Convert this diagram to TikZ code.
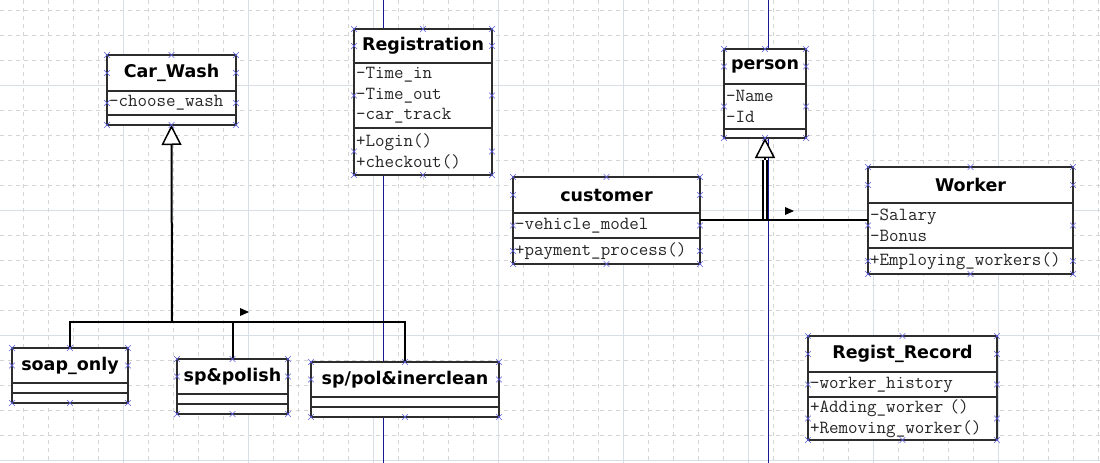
\documentclass[tikz,border=0pt]{standalone}
\usepackage{fontspec}
\newfontfamily\clsfont{DejaVu Sans}
\usetikzlibrary{positioning,arrows.meta,shapes.misc}
\definecolor{gridgray}{RGB}{212,212,212}
\definecolor{gridsolid}{RGB}{215,222,232}
\definecolor{guideblue}{RGB}{25,25,150}
\definecolor{handle}{RGB}{95,95,225}
\definecolor{boxline}{RGB}{45,45,45}
\tikzstyle{title} = [draw=boxline, fill=white, line width=1.2pt, inner sep=0pt, outer sep=0pt, anchor=north west, minimum height=36pt, font=\clsfont\bfseries\fontsize{17.5}{20}\selectfont]
\tikzstyle{member} = [draw=boxline, fill=white, line width=1.2pt, inner xsep=2pt, inner ysep=0pt, outer sep=0pt, align=left, text=black!85, font=\ttfamily\fontsize{18.5}{20.5}\selectfont]
\tikzstyle{line} = [draw, line width=2pt]
\tikzstyle{gen} = [draw, line width=2pt, -{Triangle[fill=white, length=20pt, width=20pt, line width=1.5pt]}]
\tikzstyle{hnd} = [draw=handle, cross out, line width=0.6pt, minimum size=5pt, inner sep=0pt]

\begin{document}
\begin{tikzpicture}[x=1pt, y=-1pt]
    \useasboundingbox[fill=white] (0,0) rectangle (1100,463);
    % background grid
    \foreach \x in {23,48,...,1098} \draw[gridgray, dash pattern=on 4pt off 4pt] (\x,0) -- (\x,463);
    \foreach \y in {10,35,...,460} \draw[gridgray, dash pattern=on 4pt off 4pt] (0,\y) -- (1100,\y);
    \foreach \x in {123,248,...,998} \draw[gridsolid] (\x,0) -- (\x,463);
    \foreach \y in {85,210,335,460} \draw[gridsolid] (0,\y) -- (1100,\y);
    \draw[guideblue, line width=0.8pt] (383,0) -- (383,463);
    \draw[guideblue, line width=0.8pt] (768,0) -- (768,463);

    % classes
    \node[title, minimum width=129pt] (carwash) at (107,55) {Car\_Wash};
    \node[member, text width=125pt, minimum height=24pt, below=0pt of carwash] (carwash-a) {-choose\_wash};
    \node[member, minimum width=129pt, minimum height=10pt, below=0pt of carwash-a] (carwash-o) {};

    \node[title, minimum width=138pt, minimum height=34pt] (registration) at (354,29) {Registration};
    \node[member, text width=134pt, minimum height=65pt, below=0pt of registration] (registration-a) {-Time\_in\\-Time\_out\\-car\_track};
    \node[member, text width=134pt, minimum height=47pt, below=0pt of registration-a] (registration-o) {+Login()\\+checkout()};

    \node[title, minimum width=82pt, minimum height=35pt] (person) at (724,49) {person};
    \node[member, text width=78pt, minimum height=45pt, below=0pt of person] (person-a) {-Name\\-Id};
    \node[member, minimum width=82pt, minimum height=9pt, below=0pt of person-a] (person-o) {};

    \node[title, minimum width=187pt] (customer) at (513,177) {customer};
    \node[member, text width=183pt, minimum height=25pt, below=0pt of customer] (customer-a) {-vehicle\_model};
    \node[member, text width=183pt, minimum height=26pt, below=0pt of customer-a] (customer-o) {+payment\_process()};

    \node[title, minimum width=205pt] (worker) at (868,167) {Worker};
    \node[member, text width=201pt, minimum height=45pt, below=0pt of worker] (worker-a) {-Salary\\-Bonus};
    \node[member, text width=201pt, minimum height=26pt, below=0pt of worker-a] (worker-o) {+Employing\_workers()};

    \node[title, minimum width=189pt] (registrecord) at (808,336) {Regist\_Record};
    \node[member, text width=185pt, minimum height=25pt, below=0pt of registrecord] (registrecord-a) {-worker\_history};
    \node[member, text width=185pt, minimum height=43pt, below=0pt of registrecord-a] (registrecord-o) {+Adding\_worker ()\\+Removing\_worker()};

    \node[title, minimum width=116pt, minimum height=35pt] (soaponly) at (12,348) {soap\_only};
    \node[member, minimum width=116pt, minimum height=10pt, below=0pt of soaponly] (soaponly-a) {};
    \node[member, minimum width=116pt, minimum height=10pt, below=0pt of soaponly-a] (soaponly-o) {};

    \node[title, minimum width=111pt, minimum height=35pt] (sppolish) at (177,359) {sp\&polish};
    \node[member, minimum width=111pt, minimum height=10pt, below=0pt of sppolish] (sppolish-a) {};
    \node[member, minimum width=111pt, minimum height=10pt, below=0pt of sppolish-a] (sppolish-o) {};

    \node[title, minimum width=188pt, minimum height=35pt] (sppolinerclean) at (311,362) {sp/pol\&inerclean};
    \node[member, minimum width=188pt, minimum height=10pt, below=0pt of sppolinerclean] (sppolinerclean-a) {};
    \node[member, minimum width=188pt, minimum height=10pt, below=0pt of sppolinerclean-a] (sppolinerclean-o) {};

    % generalization to Car_Wash
    \coordinate (cwbus) at (172,322);
    \path[line] (soaponly.north) |- (cwbus) -| (sppolish.north);
    \path[line] (cwbus) -| (sppolinerclean.north);
    \path[gen] (cwbus) -- (carwash-o.south);
    \fill (240,308) -- (249,312) -- (240,316) -- cycle;

    % generalization to person
    \coordinate (pbus) at (765,220);
    \coordinate (ptri) at ([yshift=-22pt]person-o.south);
    \path[line] (customer-a.east |- pbus) -- (worker-a.west |- pbus);
    \path[line, line width=1.5pt] ([xshift=-1.8pt]pbus) -- ([xshift=-1.8pt]ptri);
    \path[line, line width=1.5pt] ([xshift=1.8pt]pbus) -- ([xshift=1.8pt]ptri);
    \path[gen] (ptri) -- (person-o.south);
    \fill (785,207) -- (794,211) -- (785,215) -- cycle;

    % selection handles
    \foreach \c/\o in {carwash/carwash-o, registration/registration-o, person/person-o, customer/customer-o, worker/worker-o, registrecord/registrecord-o, soaponly/soaponly-o, sppolish/sppolish-o, sppolinerclean/sppolinerclean-o} {
        \foreach \a in {north west,north,north east,west,east}
            \node[hnd] at (\c.\a) {};
        \foreach \a in {south west,south,south east}
            \node[hnd] at (\o.\a) {};
    }
    \foreach \m in {carwash-a, registration-a, registration-o, person-a, customer-a, customer-o, worker-a, worker-o, registrecord-a, registrecord-o} {
        \node[hnd] at (\m.west) {};
        \node[hnd] at (\m.east) {};
    }
\end{tikzpicture}
\end{document}
